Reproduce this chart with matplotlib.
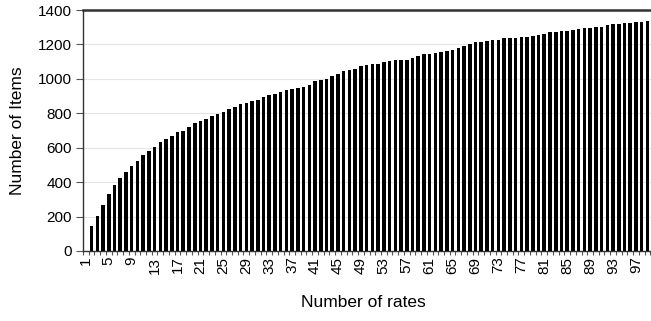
import numpy as np
import matplotlib.pyplot as plt
from matplotlib.ticker import FixedLocator

plt.rcParams['font.family'] = ['Liberation Sans', 'DejaVu Sans']

# number of rates (categories) and number of items per category
rates = np.arange(1, 101)
items = [
    0, 145, 203, 268, 334, 381, 423, 460, 495, 525,
    560, 581, 605, 635, 649, 670, 690, 698, 723, 742,
    754, 769, 783, 795, 808, 827, 837, 854, 860, 870,
    879, 895, 908, 912, 924, 933, 939, 949, 953, 966,
    986, 995, 1001, 1014, 1030, 1043, 1052, 1059, 1072, 1078,
    1088, 1088, 1096, 1103, 1107, 1111, 1111, 1123, 1132, 1142,
    1146, 1150, 1156, 1161, 1169, 1179, 1190, 1204, 1212, 1215,
    1219, 1223, 1227, 1235, 1239, 1239, 1243, 1246, 1250, 1256,
    1262, 1270, 1275, 1277, 1277, 1285, 1289, 1293, 1297, 1300,
    1304, 1310, 1318, 1320, 1324, 1326, 1329, 1333, 1335, 1337,
]
label_rates = rates[::4]
y_ticks = [0, 200, 400, 600, 800, 1000, 1200, 1400]

fig = plt.figure(figsize=(6.51, 3.21), dpi=100)
ax = fig.add_axes([83 / 651, 70 / 321, 573 / 651, 241 / 321])

pos = np.arange(len(rates))
ax.bar(pos, items, width=0.62, color='black', zorder=3)

ax.set_xlim(-0.5, len(rates) - 0.5)
ax.set_ylim(0, 1400)
ax.set_yticks(y_ticks)
ax.yaxis.grid(True, color='#e4e4e4', linewidth=0.8, zorder=0)

# labels centred on categories, tick marks on the category boundaries
ax.set_xticks(pos[::4])
ax.set_xticklabels([str(r) for r in label_rates], rotation=90, fontsize=11)
ax.xaxis.set_minor_locator(FixedLocator(np.arange(len(rates) + 1) - 0.5))
ax.tick_params(axis='x', which='major', length=0, pad=4)
ax.tick_params(axis='x', which='minor', length=3, width=0.8, color='#555555')
ax.tick_params(axis='y', length=5, width=0.8, color='#555555', labelsize=11, pad=3)

for side in ['left', 'bottom', 'top']:
    ax.spines[side].set_color('#333333')
    ax.spines[side].set_linewidth(1.0)
ax.spines['top'].set_linewidth(1.8)
ax.spines['right'].set_visible(False)

ax.set_xlabel('Number of rates', fontsize=12.5)
ax.set_ylabel('Number of Items', fontsize=12.5)
ax.xaxis.set_label_coords(0.49, -0.183)
ax.yaxis.set_label_coords(-0.101, 0.5)

fig.savefig('out.png', dpi=100)
